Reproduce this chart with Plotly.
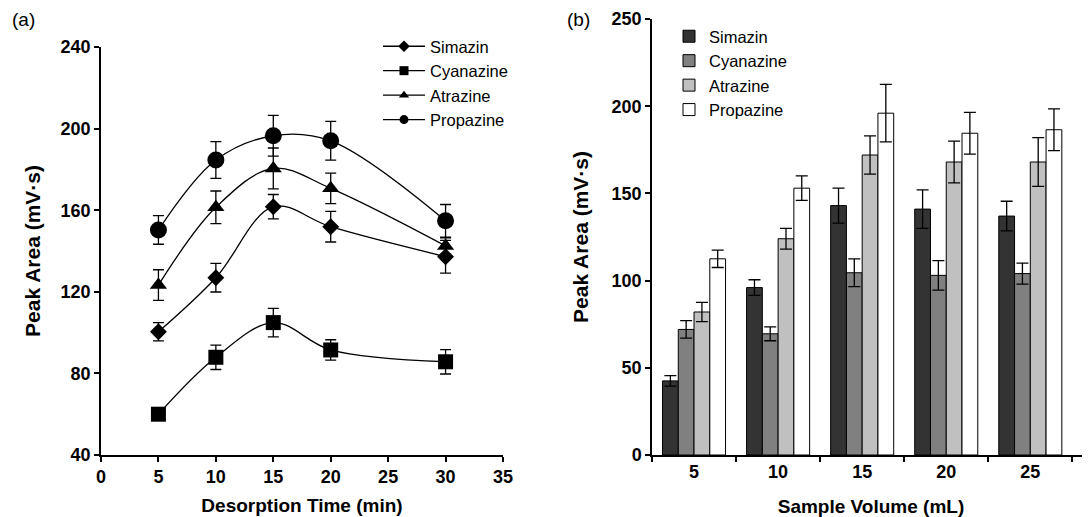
import plotly.graph_objects as go

# ---- Panel (a) data: Desorption time ----
desorption_time = [5, 10, 15, 20, 30]
simazin_a = [100.4, 126.9, 161.7, 151.9, 137.2]
simazin_a_err = [4.5, 7, 6, 7.5, 8]
cyanazine_a = [60, 87.9, 104.9, 91.5, 85.7]
cyanazine_a_err = [2, 6, 7, 5, 6]
atrazine_a = [123.3, 161.4, 180.5, 170.7, 142.5]
atrazine_a_err = [7.5, 8, 10, 7.5, 4]
propazine_a = [150.3, 184.6, 196.5, 194.0, 154.8]
propazine_a_err = [7, 9, 10, 9.5, 8]

# ---- Panel (b) data: Sample volume ----
sample_volume = ["5", "10", "15", "20", "25"]
simazin_b = [42.5, 96, 143, 141, 137]
simazin_b_err = [3, 4.5, 10, 11, 8.5]
cyanazine_b = [72, 69.5, 104.5, 103, 104]
cyanazine_b_err = [5, 4, 8, 8.5, 6]
atrazine_b = [82, 124, 172, 168, 168]
atrazine_b_err = [5.5, 6, 11, 12, 14]
propazine_b = [112.5, 153, 196, 184.5, 186.5]
propazine_b_err = [5, 7, 16.5, 12, 12]

names = ["Simazin", "Cyanazine", "Atrazine", "Propazine"]
FONT = "Liberation Sans, Arial, sans-serif"
W, H = 1090, 517
OFF = 8  # page body margin offset


def px(x):
    return (x - OFF) / W


def py(y):
    return 1 - (y - OFF) / H


fig = go.Figure()

# Panel (a) line series
series_a = [
    (simazin_a, simazin_a_err, "diamond", 13),
    (cyanazine_a, cyanazine_a_err, "square", 15),
    (atrazine_a, atrazine_a_err, "triangle-up", 15),
    (propazine_a, propazine_a_err, "circle", 17),
]
for name, (vals, err, sym, sz) in zip(names, series_a):
    fig.add_trace(go.Scatter(
        x=desorption_time, y=vals, name=name, mode="lines+markers",
        line=dict(color="black", width=1.3, shape="spline"),
        marker=dict(symbol=sym, size=sz, color="black"),
        error_y=dict(type="data", array=err, color="black", thickness=1.3, width=5.5),
        xaxis="x", yaxis="y", showlegend=False,
    ))
# legend entries for panel (a) (smaller markers, as in the original)
for name, (vals, err, sym, sz) in zip(names, series_a):
    fig.add_trace(go.Scatter(
        x=[None], y=[None], name=name, mode="lines+markers",
        line=dict(color="black", width=1.3),
        marker=dict(symbol=sym, size=9, color="black"),
        xaxis="x", yaxis="y", legend="legend",
    ))

# Panel (b) bar series
series_b = [
    (simazin_b, simazin_b_err, "#333333"),
    (cyanazine_b, cyanazine_b_err, "#808080"),
    (atrazine_b, atrazine_b_err, "#c0c0c0"),
    (propazine_b, propazine_b_err, "#ffffff"),
]
for name, (vals, err, col) in zip(names, series_b):
    fig.add_trace(go.Bar(
        x=sample_volume, y=vals, name=name,
        marker=dict(color=col, line=dict(color="black", width=1)),
        error_y=dict(type="data", array=err, color="black", thickness=1.3, width=6),
        xaxis="x2", yaxis="y2", legend="legend2",
    ))

axis_common = dict(
    showline=True, linecolor="black", linewidth=1.5, ticks="outside",
    ticklen=5, tickwidth=1.5, tickcolor="black", showgrid=False, zeroline=False,
    automargin=False,
    tickfont=dict(family=FONT, size=18, color="black", weight="bold"),
)
xtitle_font = dict(family=FONT, size=19, color="black", weight="bold")
ytitle_font = dict(family=FONT, size=21, color="black", weight="bold")

fig.update_layout(
    width=W, height=H,
    margin=dict(l=0, r=0, t=0, b=0),
    paper_bgcolor="white", plot_bgcolor="white",
    font=dict(family=FONT, color="black"),
    barmode="group", bargap=0.25, bargroupgap=0,
    xaxis=dict(domain=[px(101), px(503)], range=[0, 35], tickvals=[0, 5, 10, 15, 20, 25, 30, 35],
               title=dict(text="Desorption Time (min)", standoff=12, font=xtitle_font),
               anchor="y", **axis_common),
    yaxis=dict(domain=[py(455), py(47)], range=[40, 240], tickvals=[40, 80, 120, 160, 200, 240],
               title=dict(text="Peak Area (mV·s)", standoff=14, font=ytitle_font),
               anchor="x", **axis_common),
    xaxis2=dict(domain=[px(652), px(1090)], range=[-0.5, 4.71], type="category", tickson="boundaries",
                title=dict(text="Sample Volume (mL)", standoff=18, font=xtitle_font),
                anchor="y2", **axis_common),
    yaxis2=dict(domain=[py(455), py(19)], range=[0, 250], tickvals=[0, 50, 100, 150, 200, 250],
                title=dict(text="Peak Area (mV·s)", standoff=17, font=ytitle_font),
                anchor="x2", **axis_common),
    legend=dict(x=370 / W, y=1 - 21 / H, xanchor="left", yanchor="top", bgcolor="rgba(0,0,0,0)",
                font=dict(family=FONT, size=16.5, color="black"), tracegroupgap=0, itemwidth=42),
    legend2=dict(x=661 / W, y=1 - 11 / H, xanchor="left", yanchor="top", bgcolor="rgba(0,0,0,0)",
                 font=dict(family=FONT, size=16.5, color="black"), tracegroupgap=0),
    annotations=[
        dict(text="(a)", x=px(10), y=py(20), xref="paper", yref="paper", showarrow=False,
             xanchor="left", yanchor="middle", font=dict(family=FONT, size=19, color="black")),
        dict(text="(b)", x=px(565), y=py(20), xref="paper", yref="paper", showarrow=False,
             xanchor="left", yanchor="middle", font=dict(family=FONT, size=19, color="black")),
    ],
)

fig.write_html("out.html")
